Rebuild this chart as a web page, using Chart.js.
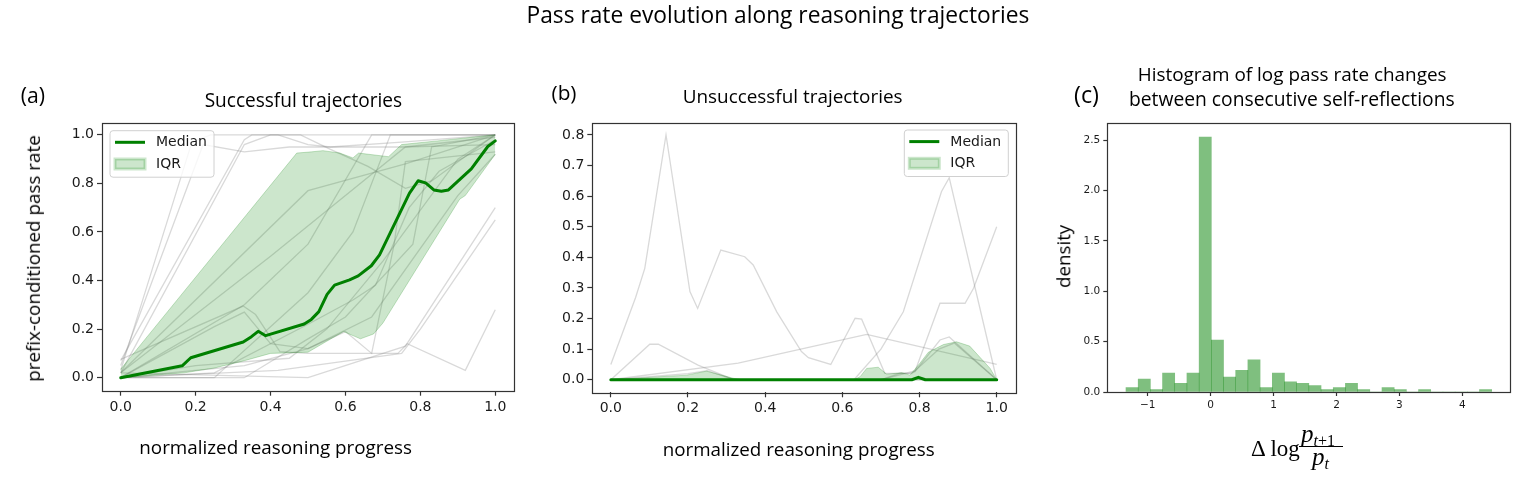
<!DOCTYPE html>
<html>
<head>
<meta charset="utf-8">
<script src="https://cdn.jsdelivr.net/npm/chart.js@4.4.1/dist/chart.umd.min.js"></script>
<style>
html,body{margin:0;padding:0;background:#fff;}
#wrap{position:relative;width:1534px;height:482px;overflow:hidden;background:#fff;}
#wrap canvas{position:absolute;left:0;top:0;}
.t{position:absolute;white-space:nowrap;line-height:1;color:#000;}
.math{position:absolute;white-space:nowrap;line-height:1;color:#000;font-family:"Liberation Serif","DejaVu Serif",serif;}
</style>
</head>
<body>
<div id="wrap">
  <canvas id="chartA" width="1534" height="482"></canvas>
  <canvas id="chartB" width="1534" height="482"></canvas>
  <canvas id="chartC" width="1534" height="482"></canvas>
</div>
<script>
// ---------------- data ----------------
const progressTicks = [0, 0.2, 0.4, 0.6, 0.8, 1.0];
const successRateTicks = [0, 0.2, 0.4, 0.6, 0.8, 1.0];
const failRateTicks = [0, 0.1, 0.2, 0.3, 0.4, 0.5, 0.6, 0.7, 0.8];
const histXTicks = [-1, 0, 1, 2, 3, 4];
const histYTicks = [0, 0.5, 1.0, 1.5, 2.0, 2.5];

// (a) successful trajectories: [progress, pass rate]
const successMedian = [[0,0],[0.164,0.049],[0.187,0.082],[0.327,0.147],[0.349,0.169],[0.367,0.191],[0.387,0.173],[0.490,0.221],[0.509,0.240],[0.529,0.272],[0.551,0.343],[0.571,0.381],[0.611,0.403],[0.634,0.419],[0.669,0.461],[0.691,0.506],[0.771,0.760],[0.794,0.811],[0.814,0.802],[0.836,0.773],[0.856,0.768],[0.875,0.773],[0.936,0.860],[0.980,0.952],[1.0,0.975]];
const successIqrLow = [[0,0],[0.17,0.02],[0.25,0.04],[0.33,0.07],[0.40,0.10],[0.50,0.105],[0.55,0.15],[0.595,0.19],[0.64,0.16],[0.675,0.18],[0.70,0.225],[0.905,0.735],[0.92,0.75],[1.0,0.92]];
const successIqrHigh = [[0,0.035],[0.47,0.925],[0.51,0.93],[0.54,0.935],[0.585,0.925],[0.62,0.905],[0.635,0.925],[0.715,0.91],[0.75,0.96],[0.845,0.975],[1.0,1.0]];
const successTrajectories = [
  [[0,0.03],[0.19,0.97],[0.24,1.0],[1.0,1.0]],
  [[0,0.05],[0.22,0.96],[0.33,0.93],[0.45,0.95],[0.75,0.95],[1.0,0.96]],
  [[0,0.07],[0.33,0.98],[0.35,1.0],[0.42,1.0],[0.5,0.96],[0.56,0.95],[0.75,0.97],[1.0,1.0]],
  [[0,0.02],[0.33,0.96],[0.4,1.0],[0.48,1.0],[0.56,0.94],[0.66,0.87],[0.76,0.78],[0.83,0.81],[1.0,1.0]],
  [[0,0.02],[0.5,0.77],[0.76,0.88],[1.0,1.0]],
  [[0,0.0],[0.33,0.3],[0.5,0.55],[0.67,1.0],[1.0,1.0]],
  [[0,0.0],[0.25,0.0],[0.5,0.35],[0.62,0.6],[0.72,1.0],[1.0,1.0]],
  [[0,0.075],[0.327,0.295],[0.36,0.26],[0.425,0.107],[0.5,0.1],[0.74,0.1],[0.765,0.14],[0.92,0.03],[1.0,0.28]],
  [[0,0.0],[0.25,0.21],[0.33,0.27],[0.4,0.14],[0.5,0.12],[0.6,0.19],[0.67,0.1],[0.73,0.55],[0.76,0.89],[1.0,0.93]],
  [[0,0.0],[0.33,0.0],[0.5,0.16],[0.6,0.25],[0.78,0.55],[0.83,0.95],[1.0,1.0]],
  [[0,0.02],[0.5,0.0],[0.76,0.13],[1.0,0.70]],
  [[0,0.0],[0.42,0.03],[0.75,0.1],[0.8,0.2],[1.0,0.65]],
  [[0,0.0],[0.33,0.05],[0.5,0.12],[0.67,0.25],[0.9,0.75],[1.0,0.92]],
  [[0,0.0],[0.25,0.02],[0.5,0.22],[0.62,0.32],[0.68,0.38],[0.77,0.7],[0.85,0.85],[1.0,0.98]],
  [[0,0.02],[0.4,0.5],[0.6,0.75],[0.76,0.95],[1.0,0.99]],
  [[0,0.0],[0.2,0.05],[0.45,0.08],[0.55,0.2],[0.7,0.48],[0.9,0.9],[1.0,1.0]]
];

// (b) unsuccessful trajectories
const failMedian = [[0,0],[0.78,0],[0.797,0.008],[0.815,0],[1.0,0]];
const failIqrLow = [[0,0],[1.0,0]];
const failIqrHigh = [[0,0],[0.196,0.015],[0.248,0.028],[0.317,0.005],[0.34,0],[0.63,0],[0.646,0.01],[0.663,0.037],[0.693,0.041],[0.715,0.018],[0.754,0.023],[0.775,0.015],[0.801,0.054],[0.823,0.09],[0.862,0.115],[0.896,0.124],[0.93,0.11],[0.983,0.037],[1.0,0.0]];
const failTrajectories = [
  [[0,0.05],[0.064,0.268],[0.088,0.364],[0.143,0.80],[0.205,0.288],[0.225,0.233],[0.285,0.424],[0.347,0.402],[0.369,0.375],[0.43,0.222],[0.494,0.092],[0.512,0.072],[0.570,0.050],[0.633,0.201],[0.650,0.198],[0.710,0.021],[0.771,0.021],[0.788,0.026],[0.853,0.25],[0.918,0.25],[0.94,0.299],[1.0,0.50]],
  [[0,0],[0.63,0],[0.70,0.1],[0.758,0.222],[0.857,0.615],[0.877,0.66],[1.0,0.0]],
  [[0,0],[0.101,0.116],[0.123,0.116],[0.226,0.048],[0.32,0],[1.0,0]],
  [[0,0],[0.33,0.054],[0.663,0.148],[1.0,0.05]],
  [[0,0],[0.7,0],[0.79,0.03],[0.853,0.13],[0.877,0.14],[1.0,0]],
  [[0,0],[0.2,0.02],[0.25,0.03],[0.32,0],[0.7,0],[0.75,0.022],[0.78,0.02],[0.85,0.1],[0.89,0.12],[1.0,0]]
];

// (c) histogram of log pass-rate changes
const histBinCenters = [-1.250,-1.056,-0.862,-0.669,-0.475,-0.281,-0.087,0.107,0.300,0.494,0.688,0.882,1.076,1.269,1.463,1.657,1.851,2.045,2.238,2.432,2.626,2.820,3.014,3.207,3.401,3.595,3.789,3.983,4.176,4.370];
const histDensity = [0.043,0.129,0.023,0.188,0.086,0.188,2.53,0.515,0.148,0.214,0.32,0.043,0.188,0.102,0.086,0.063,0.023,0.043,0.086,0.023,0,0.043,0.023,0,0.023,0,0,0,0,0.023];

// ---------------- helpers ----------------
const pts = arr => arr.map(([x, y]) => ({x, y}));
const GREY = 'rgba(128,128,128,0.3)';
const GREEN = '#008000';
const BAND = 'rgba(0,128,0,0.2)';
const BAND_EDGE = 'rgba(0,128,0,0.22)';
const TICK_FONT = 'DejaVu Sans';

function axis(tickValues, min, max, fontSize, fmt, sizeKey, sizeVal, tickLen) {
  return {
    type: 'linear', min, max, offset: false,
    grid: {display: true, drawOnChartArea: false, drawTicks: true, tickLength: tickLen, tickColor: '#333', tickWidth: 1.2, offset: false},
    border: {display: false},
    ticks: {font: {family: TICK_FONT, size: fontSize}, color: '#1a1a1a', padding: 3, autoSkip: false, maxRotation: 0, callback: fmt},
    afterBuildTicks: s => { s.ticks = tickValues.map(v => ({value: v})); },
    afterFit: s => { s[sizeKey] = sizeVal; }
  };
}
const fmt1 = v => Number(v).toFixed(1);
const fmtInt = v => (v < 0 ? '\u2212' + Math.abs(v) : String(v));

const framePlugin = {
  id: 'frame',
  afterDraw(chart) {
    const {ctx, chartArea: a} = chart;
    ctx.save();
    ctx.strokeStyle = '#333';
    ctx.lineWidth = 1.2;
    ctx.strokeRect(Math.round(a.left) + 0.5, Math.round(a.top) + 0.5, Math.round(a.right - a.left), Math.round(a.bottom - a.top));
    ctx.restore();
  }
};

const insetLegend = {
  id: 'insetLegend',
  afterDraw(chart, args, o) {
    if (!o || !o.items) return;
    const {ctx, chartArea: a} = chart;
    const W = 104, H = 46.5;
    const x0 = o.corner === 'tr' ? a.right - o.dx - W : a.left + o.dx;
    const y0 = a.top + o.dy;
    ctx.save();
    ctx.beginPath();
    ctx.roundRect(x0, y0, W, H, 3);
    ctx.fillStyle = 'rgba(255,255,255,0.8)';
    ctx.fill();
    ctx.strokeStyle = '#d0d0d0';
    ctx.lineWidth = 1;
    ctx.stroke();
    o.items.forEach((lab, i) => {
      const ds = chart.data.datasets.find(d => d.label === lab);
      const cy = y0 + 11.6 + i * 21.7;
      if (ds.fill) {
        ctx.fillStyle = ds.backgroundColor;
        ctx.fillRect(x0 + 5, cy - 5, 30, 10);
        ctx.strokeStyle = 'rgba(0,128,0,0.2)';
        ctx.strokeRect(x0 + 5, cy - 5, 30, 10);
      } else {
        ctx.strokeStyle = ds.borderColor;
        ctx.lineWidth = 3;
        ctx.beginPath();
        ctx.moveTo(x0 + 5, cy);
        ctx.lineTo(x0 + 35, cy);
        ctx.stroke();
      }
      ctx.fillStyle = '#1a1a1a';
      ctx.font = '14px "DejaVu Sans"';
      ctx.textBaseline = 'middle';
      ctx.textAlign = 'left';
      ctx.fillText(lab, x0 + 46, cy + 0.5);
    });
    ctx.restore();
  }
};

function trajectoryDatasets(list) {
  return list.map(tr => ({data: pts(tr), borderColor: GREY, borderWidth: 1.3, pointRadius: 0, fill: false, order: 3}));
}
function bandAndMedian(low, high, med) {
  return [
    {label: 'IQR lower', data: pts(low), borderColor: BAND_EDGE, borderWidth: 1, pointRadius: 0, fill: false, order: 2},
    {label: 'IQR', data: pts(high), borderColor: BAND_EDGE, backgroundColor: BAND, borderWidth: 1, pointRadius: 0, fill: '-1', order: 2},
    {label: 'Median', data: pts(med), borderColor: GREEN, borderWidth: 3, borderJoinStyle: 'round', borderCapStyle: 'round', pointRadius: 0, fill: false, order: 1}
  ];
}
const baseOpts = {responsive: false, animation: false, events: []};

// ---------------- (a) ----------------
new Chart(document.getElementById('chartA'), {
  type: 'line',
  data: {datasets: [...trajectoryDatasets(successTrajectories), ...bandAndMedian(successIqrLow, successIqrHigh, successMedian)]},
  options: {
    ...baseOpts,
    layout: {padding: {left: 57, top: 122.7, right: 1020, bottom: 61.3}},
    scales: {
      x: axis(progressTicks, -0.05, 1.05, 14, fmt1, 'height', 30, 5),
      y: axis(successRateTicks, -0.0536, 1.05, 14, fmt1, 'width', 45, 5)
    },
    plugins: {legend: {display: false}, tooltip: {enabled: false},
      insetLegend: {items: ['Median', 'IQR'], corner: 'tl', dx: 8, dy: 8}}
  },
  plugins: [framePlugin, insetLegend]
});

// ---------------- (b) ----------------
new Chart(document.getElementById('chartB'), {
  type: 'line',
  data: {datasets: [...trajectoryDatasets(failTrajectories), ...bandAndMedian(failIqrLow, failIqrHigh, failMedian)]},
  options: {
    ...baseOpts,
    layout: {padding: {left: 547.3, top: 122.7, right: 518, bottom: 59.7}},
    scales: {
      x: axis(progressTicks, -0.048, 1.05, 14, fmt1, 'height', 30, 5),
      y: axis(failRateTicks, -0.041, 0.84, 14, fmt1, 'width', 45, 5)
    },
    plugins: {legend: {display: false}, tooltip: {enabled: false},
      insetLegend: {items: ['Median', 'IQR'], corner: 'tr', dx: 7.7, dy: 7.3}}
  },
  plugins: [framePlugin, insetLegend]
});

// ---------------- (c) ----------------
new Chart(document.getElementById('chartC'), {
  type: 'bar',
  data: {datasets: [{label: 'density', data: histBinCenters.map((x, i) => ({x, y: histDensity[i]})),
    backgroundColor: 'rgba(0,128,0,0.5)', borderWidth: 0, barPercentage: 1, categoryPercentage: 1, grouped: false}]},
  options: {
    ...baseOpts,
    layout: {padding: {left: 1062.3, top: 123.3, right: 24, bottom: 60}},
    scales: {
      x: axis(histXTicks, -1.644, 4.758, 10.5, fmtInt, 'height', 30, 4),
      y: axis(histYTicks, 0, 2.666, 10.5, fmt1, 'width', 45, 4)
    },
    plugins: {legend: {display: false}, tooltip: {enabled: false}}
  },
  plugins: [framePlugin]
});

// ---------------- text ----------------
const wrap = document.getElementById('wrap');
const mctx = document.createElement('canvas').getContext('2d');
const TITLE_FONT = '"Open Sans"';
function addText(txt, cx, cy, w, rotate) {
  mctx.font = '100px ' + TITLE_FONT;
  const m = mctx.measureText(txt).width;
  const size = 100 * w / m;
  const d = document.createElement('div');
  d.className = 't';
  d.textContent = txt;
  d.style.fontFamily = TITLE_FONT;
  d.style.fontSize = size + 'px';
  d.style.left = (cx - w / 2) + 'px';
  if (rotate) {
    d.style.top = (cy - size / 2) + 'px';
    d.style.height = size + 'px';
    d.style.width = w + 'px';
    d.style.transformOrigin = 'center center';
    d.style.transform = 'rotate(-90deg)';
  } else {
    d.style.top = (cy - 0.53 * size) + 'px';
  }
  wrap.appendChild(d);
}
addText('Pass rate evolution along reasoning trajectories', 778, 16, 503);
addText('(a)', 32.8, 95, 24.3);
addText('Successful trajectories', 303.5, 100.7, 197.7);
addText('(b)', 564, 93, 25);
addText('Unsuccessful trajectories', 792.7, 97, 220);
addText('(c)', 1086.5, 95, 25);
addText('Histogram of log pass rate changes', 1292.2, 75, 309);
addText('between consecutive self-reflections', 1292, 99.3, 326);
addText('prefix-conditioned pass rate', 33.3, 258.3, 246.7, true);
addText('normalized reasoning progress', 275.8, 447.7, 273);
addText('normalized reasoning progress', 798.8, 450, 272.3);
addText('density', 1063.3, 256.7, 63.3, true);

// math label  Δ log (p_{t+1} / p_t)
function mathSpan(html, left, top, size) {
  const d = document.createElement('div');
  d.className = 'math';
  d.innerHTML = html;
  d.style.left = left + 'px';
  d.style.top = top + 'px';
  d.style.fontSize = size + 'px';
  wrap.appendChild(d);
  return d;
}
mathSpan('\u0394\u2009log', 1251, 437.3, 23);
mathSpan('<i>p</i><span style="font-size:16px;position:relative;top:4px"><i>t</i>+1</span>', 1301, 420.5, 25);
const bar = document.createElement('div');
bar.style.cssText = 'position:absolute;left:1299px;top:446.2px;width:44px;height:1.3px;background:#000;';
wrap.appendChild(bar);
mathSpan('<i>p</i><span style="font-size:16px;position:relative;top:4px"><i>t</i></span>', 1312, 444, 25);
</script>
</body>
</html>
